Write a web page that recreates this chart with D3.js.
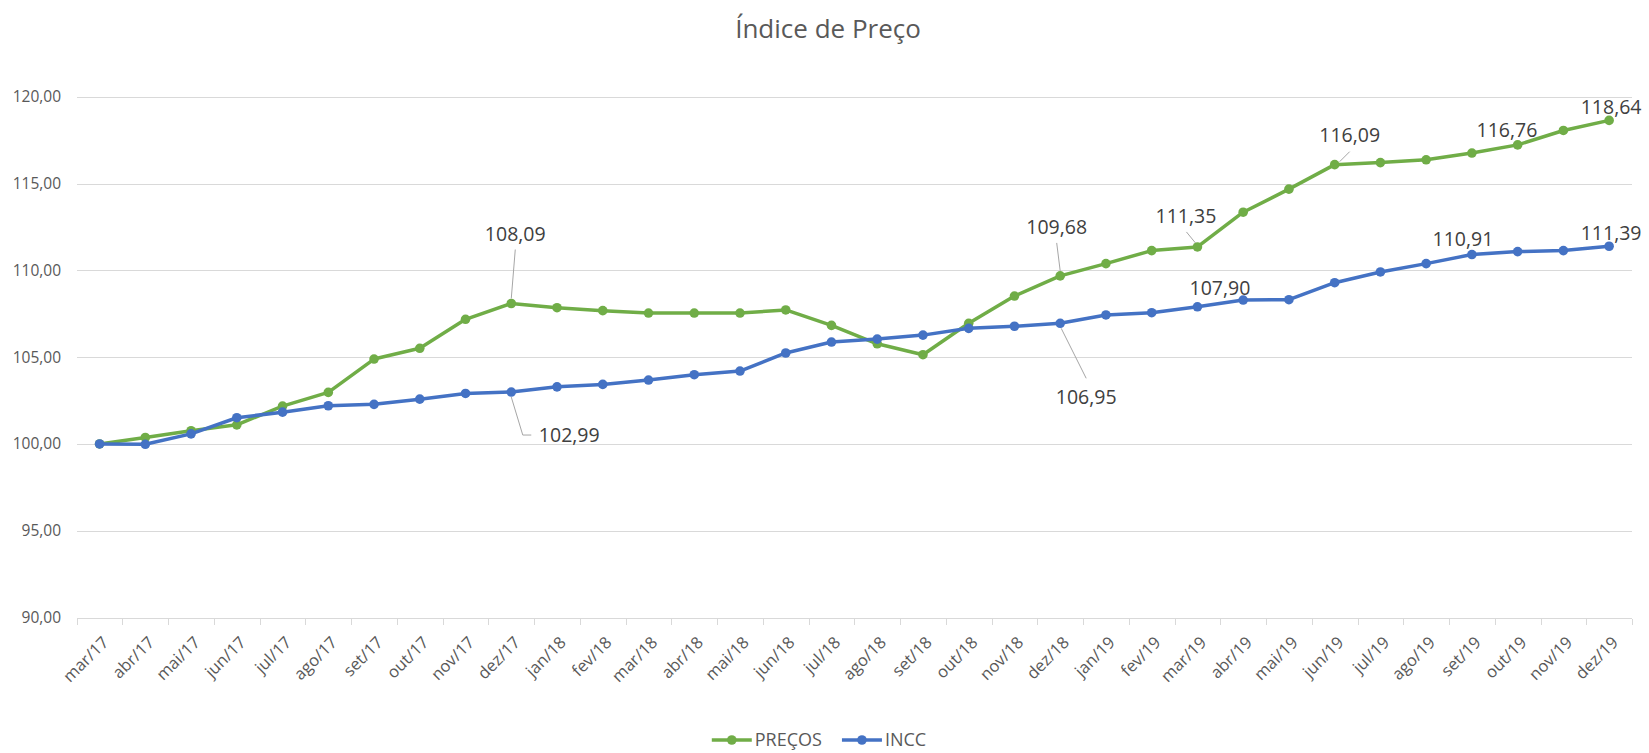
<!DOCTYPE html>
<html>
<head>
  <meta charset="utf-8">
  <script src="https://cdn.jsdelivr.net/npm/d3@7"></script>
  <style>
    body { margin: 0; background: #fff; }
    text { font-family: 'Open Sans', 'DejaVu Sans', sans-serif; fill: #595959; }
    .title { font-size: 26px; }
    .ylab { font-size: 15.5px; }
    .xlab { font-size: 16.5px; }
    .dlab { font-size: 19.5px; fill: #404040; }
    .leg { font-size: 18px; }
    .grid { stroke: #d9d9d9; stroke-width: 1px; shape-rendering: crispEdges; }
    .line { fill: none; stroke-width: 3.5px; stroke-linejoin: round; stroke-linecap: round; }
    .leader { fill: none; stroke: #a6a6a6; stroke-width: 1px; }
  </style>
</head>
<body>
<div id="chart"></div>
<script type="text/javascript">

// months on the x axis
var months = ["mar/17", "abr/17", "mai/17", "jun/17", "jul/17", "ago/17", "set/17", "out/17", "nov/17", "dez/17",
              "jan/18", "fev/18", "mar/18", "abr/18", "mai/18", "jun/18", "jul/18", "ago/18", "set/18", "out/18", "nov/18", "dez/18",
              "jan/19", "fev/19", "mar/19", "abr/19", "mai/19", "jun/19", "jul/19", "ago/19", "set/19", "out/19", "nov/19", "dez/19"];

// series values
var precos = [100.00, 100.37, 100.76, 101.10, 102.18, 102.97, 104.89, 105.51, 107.18, 108.09,
              107.85, 107.68, 107.54, 107.54, 107.54, 107.72, 106.83, 105.77, 105.14, 106.95, 108.52, 109.68,
              110.39, 111.14, 111.35, 113.35, 114.68, 116.09, 116.21, 116.37, 116.76, 117.23, 118.06, 118.64];

var incc = [100.00, 99.98, 100.58, 101.51, 101.83, 102.20, 102.28, 102.58, 102.91, 102.99,
            103.29, 103.43, 103.68, 103.99, 104.20, 105.24, 105.87, 106.04, 106.27, 106.66, 106.78, 106.95,
            107.43, 107.56, 107.90, 108.29, 108.31, 109.29, 109.91, 110.39, 110.91, 111.08, 111.14, 111.39];

var yTicks = [90, 95, 100, 105, 110, 115, 120];

var seriesNames = ["PREÇOS", "INCC"];
var seriesColors = ["#70ad47", "#4472c4"];

// which points carry a value label
var labelPoints = [
  { s: 0, m: "dez/17" }, { s: 1, m: "dez/17" },
  { s: 0, m: "dez/18" }, { s: 1, m: "dez/18" },
  { s: 0, m: "mar/19" }, { s: 1, m: "mar/19" },
  { s: 0, m: "jun/19" },
  { s: 0, m: "set/19" }, { s: 1, m: "set/19" },
  { s: 0, m: "dez/19" }, { s: 1, m: "dez/19" }
];

// where each label was dragged to (offset from its point) + leader line
var labelLayout = [
  { dx: 4, dy: -70, leader: [[4, -54], [0, -5]] },
  { dx: 58, dy: 43, leader: [[0, 5], [11.5, 43], [20, 43]] },
  { dx: -3.5, dy: -49, leader: [[-3.5, -33], [0, -5]] },
  { dx: 26, dy: 74, leader: [[26, 55], [1, 5]] },
  { dx: -11.5, dy: -30.5, leader: [[-11, -15], [-2, -4]] },
  { dx: 22.5, dy: -19 },
  { dx: 15, dy: -30, leader: [[15, -13], [5, -3]] },
  { dx: 35, dy: -23 },
  { dx: -9, dy: -16 },
  { dx: 2, dy: -13 },
  { dx: 2, dy: -13 }
];

function draw() {
  "use strict";
  var W = 1649, H = 753;
  var left = 76.7, right = 1632, top = 96.8, bottom = 617.5;

  var ptBR = d3.formatLocale({ decimal: ",", thousands: ".", grouping: [3], currency: ["R$", ""] });
  var fmt = ptBR.format(".2f");

  var svg = d3.select("#chart").append("svg")
      .attr("width", W)
      .attr("height", H);

  var x = d3.scaleBand().domain(months).range([left, right]);
  var y = d3.scaleLinear().domain([90, 120]).range([bottom, top]);
  var cx = function(m) { return x(m) + x.bandwidth() / 2; };

  // title
  svg.append("text")
      .attr("class", "title")
      .attr("x", 828)
      .attr("y", 38)
      .attr("text-anchor", "middle")
      .text("Índice de Preço");

  // gridlines + y labels
  svg.selectAll(".grid-h")
      .data(yTicks)
    .enter().append("line")
      .attr("class", "grid")
      .attr("x1", left).attr("x2", right)
      .attr("y1", function(d) { return Math.round(y(d)) + 0.5; })
      .attr("y2", function(d) { return Math.round(y(d)) + 0.5; });

  svg.selectAll(".ylab")
      .data(yTicks)
    .enter().append("text")
      .attr("class", "ylab")
      .attr("x", 61)
      .attr("y", function(d) { return y(d); })
      .attr("dy", "0.35em")
      .attr("text-anchor", "end")
      .text(function(d) { return fmt(d); });

  // x tick marks at category boundaries
  var bounds = months.map(function(m) { return x(m); }).concat([right]);
  svg.selectAll(".xtick")
      .data(bounds)
    .enter().append("line")
      .attr("class", "grid")
      .attr("x1", function(d) { return Math.round(d) + 0.5; })
      .attr("x2", function(d) { return Math.round(d) + 0.5; })
      .attr("y1", Math.round(bottom) + 0.5)
      .attr("y2", Math.round(bottom) + 6.5);

  svg.selectAll(".xlab")
      .data(months)
    .enter().append("text")
      .attr("class", "xlab")
      .attr("text-anchor", "end")
      .attr("transform", function(d) {
        return "translate(" + (cx(d) + 10) + "," + (bottom + 26) + ") rotate(-45)";
      })
      .text(function(d) { return d; });

  // lines + markers
  var allSeries = [precos, incc];
  var line = d3.line()
      .x(function(d, i) { return cx(months[i]); })
      .y(function(d) { return y(d); });

  allSeries.forEach(function(vals, si) {
    var g = svg.append("g");
    g.append("path")
        .attr("class", "line")
        .attr("stroke", seriesColors[si])
        .attr("d", line(vals));
    g.selectAll("circle")
        .data(vals)
      .enter().append("circle")
        .attr("cx", function(d, i) { return cx(months[i]); })
        .attr("cy", function(d) { return y(d); })
        .attr("r", 4.8)
        .attr("fill", seriesColors[si]);
  });

  // data labels with leader lines
  labelPoints.forEach(function(p, k) {
    var lay = labelLayout[k];
    var i = months.indexOf(p.m);
    var v = allSeries[p.s][i];
    var px = cx(p.m), py = y(v);
    if (lay.leader) {
      svg.append("path")
          .attr("class", "leader")
          .attr("d", d3.line()(lay.leader.map(function(o) { return [px + o[0], py + o[1]]; })));
    }
    svg.append("text")
        .attr("class", "dlab")
        .attr("x", px + lay.dx)
        .attr("y", py + lay.dy)
        .attr("dy", "0.36em")
        .attr("text-anchor", "middle")
        .text(fmt(v));
  });

  // legend
  var leg = svg.append("g");
  var lx = 0;
  seriesNames.forEach(function(name, si) {
    var it = leg.append("g").attr("transform", "translate(" + lx + ",0)");
    it.append("line")
        .attr("x1", 0).attr("x2", 40)
        .attr("y1", 0).attr("y2", 0)
        .attr("stroke", seriesColors[si])
        .attr("stroke-width", 3.5);
    it.append("circle")
        .attr("cx", 20).attr("cy", 0).attr("r", 4.8)
        .attr("fill", seriesColors[si]);
    var t = it.append("text")
        .attr("class", "leg")
        .attr("x", 43)
        .attr("dy", "0.36em")
        .text(name);
    lx += 43 + t.node().getComputedTextLength() + 20;
  });
  var legW = lx - 20;
  leg.attr("transform", "translate(" + (819 - legW / 2) + ",740)");
}

draw();
</script>
</body>
</html>
